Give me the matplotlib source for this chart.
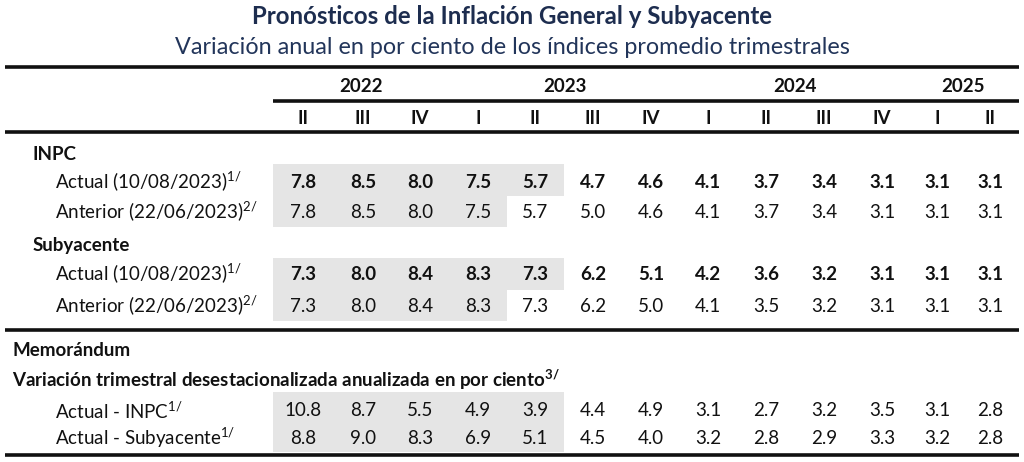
import matplotlib.pyplot as plt
from matplotlib.patches import Rectangle

plt.rcParams['font.family'] = ['Lato', 'DejaVu Sans']
plt.rcParams['mathtext.fontset'] = 'custom'
plt.rcParams['mathtext.rm'] = 'Lato'
plt.rcParams['mathtext.bf'] = 'Lato:bold'

title = "Pronósticos de la Inflación General y Subyacente"
subtitle = "Variación anual en por ciento de los índices promedio trimestrales"

years = ["2022", "2023", "2024", "2025"]
year_span = [(0, 2), (3, 6), (7, 10), (11, 12)]
quarters = ["II", "III", "IV", "I", "II", "III", "IV", "I", "II", "III", "IV", "I", "II"]

inpc_actual = [7.8, 8.5, 8.0, 7.5, 5.7, 4.7, 4.6, 4.1, 3.7, 3.4, 3.1, 3.1, 3.1]
inpc_anterior = [7.8, 8.5, 8.0, 7.5, 5.7, 5.0, 4.6, 4.1, 3.7, 3.4, 3.1, 3.1, 3.1]
sub_actual = [7.3, 8.0, 8.4, 8.3, 7.3, 6.2, 5.1, 4.2, 3.6, 3.2, 3.1, 3.1, 3.1]
sub_anterior = [7.3, 8.0, 8.4, 8.3, 7.3, 6.2, 5.0, 4.1, 3.5, 3.2, 3.1, 3.1, 3.1]
memo_inpc = [10.8, 8.7, 5.5, 4.9, 3.9, 4.4, 4.9, 3.1, 2.7, 3.2, 3.5, 3.1, 2.8]
memo_sub = [8.8, 9.0, 8.3, 6.9, 5.1, 4.5, 4.0, 3.2, 2.8, 2.9, 3.3, 3.2, 2.8]

# observed values shaded: actual rows up to col 4, anterior up to col 3
n_obs_actual = 5
n_obs_anterior = 4

# layout (pixels, top-down)
col_x = [303, 363, 420, 478, 535, 593, 651, 708, 766, 824, 882, 937, 990]
W, H = 1024, 462
navy = '#1d2d4f'
shade = '#e5e5e5'
fs = 13.5

fig = plt.figure(figsize=(W / 100, H / 100), dpi=100)
ax = fig.add_axes([0, 0, 1, 1])
ax.set_xlim(0, W)
ax.set_ylim(H, 0)
ax.axis('off')

def bound(i, side):
    if side < 0:
        return col_x[0] - 30 if i == 0 else (col_x[i - 1] + col_x[i]) / 2
    return (col_x[i] + col_x[i + 1]) / 2

def shade_box(ncols, y0, y1):
    x0 = bound(0, -1)
    x1 = bound(ncols - 1, 1)
    ax.add_patch(Rectangle((x0, y0), x1 - x0, y1 - y0, color=shade, lw=0, zorder=0))

def hline(y, x0=5, x1=1019, lw=2.6):
    ax.plot([x0, x1], [y, y], color='#111111', lw=lw, solid_capstyle='butt')

ax.text(W / 2, 17, title, ha='center', va='center', fontsize=17.3, fontweight='bold', color=navy)
ax.text(W / 2, 47, subtitle, ha='center', va='center', fontsize=16.8, color='#22355a')

hline(67)
for yr, (a, b) in zip(years, year_span):
    ax.text((col_x[a] + col_x[b]) / 2, 87, yr, ha='center', va='center', fontsize=fs, fontweight='bold', color='#111111')
hline(101, x0=bound(0, -1))
for q, x in zip(quarters, col_x):
    ax.text(x, 118, q, ha='center', va='center', fontsize=fs, fontweight='bold', color='#111111')
hline(132)

# shading
shade_box(n_obs_actual, 164, 196)
shade_box(n_obs_anterior, 196, 227)
shade_box(n_obs_actual, 258, 290)
shade_box(n_obs_anterior, 290, 321)
shade_box(n_obs_actual, 392, 452)

def row(label, y, vals, bold, x=55):
    ax.text(x, y, label, ha='left', va='center', fontsize=fs, color='#111111')
    for v, cx in zip(vals, col_x):
        ax.text(cx, y, f"{v:.1f}", ha='center', va='center', fontsize=fs,
                fontweight='bold' if bold else 'normal', color='#111111')

ax.text(33, 155, "INPC", ha='left', va='center', fontsize=fs, fontweight='bold', color='#111111')
row(r"Actual (10/08/2023)$^{1/}$", 182, inpc_actual, True)
row(r"Anterior (22/06/2023)$^{2/}$", 212, inpc_anterior, False)
ax.text(33, 246, "Subyacente", ha='left', va='center', fontsize=fs, fontweight='bold', color='#111111')
row(r"Actual (10/08/2023)$^{1/}$", 274, sub_actual, True)
row(r"Anterior (22/06/2023)$^{2/}$", 306, sub_anterior, False)

hline(330)
ax.text(12, 351, "Memorándum", ha='left', va='center', fontsize=fs, fontweight='bold', color='#111111')
ax.text(12, 380, r"Variación trimestral desestacionalizada anualizada en por ciento$^{\mathbf{3/}}$",
        ha='left', va='center', fontsize=fs, fontweight='bold', color='#111111')
row(r"Actual - INPC$^{1/}$", 411, memo_inpc, False)
row(r"Actual - Subyacente$^{1/}$", 438, memo_sub, False)
hline(455)

fig.savefig('out.png', dpi=100)
